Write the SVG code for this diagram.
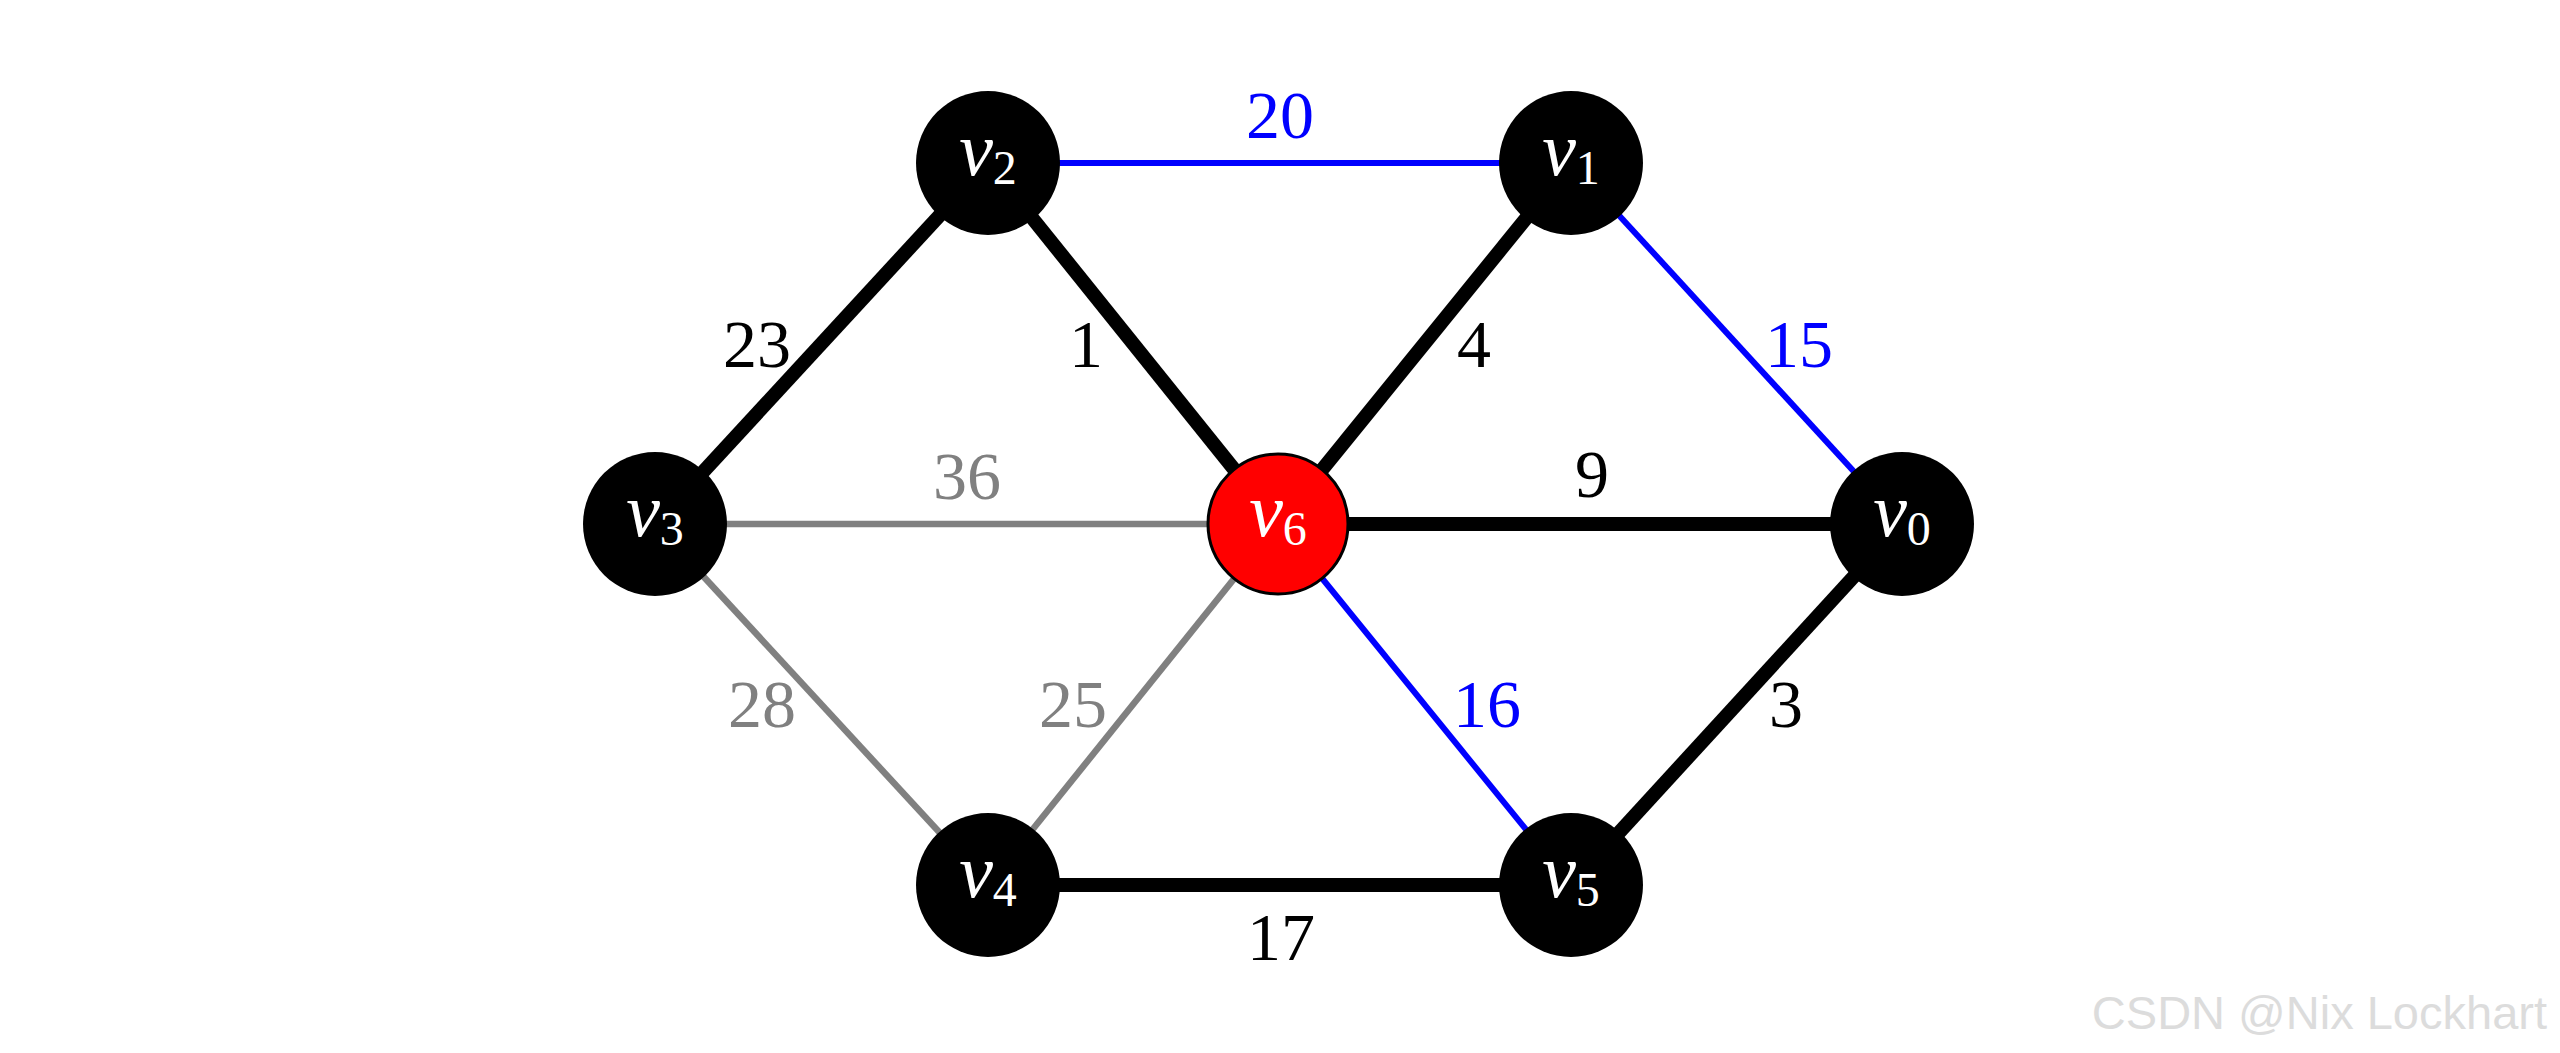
<svg xmlns="http://www.w3.org/2000/svg" width="2560" height="1053" viewBox="0 0 2560 1053">
<style>
.thick{stroke:#000;stroke-width:14;}
.blue{stroke:#0000ff;stroke-width:6;}
.gray{stroke:#808080;stroke-width:6.5;}
.node{fill:#000;}
.start{fill:#ff0000;stroke:#000;stroke-width:3;}
.nl{font-family:"Liberation Serif","DejaVu Serif",serif;fill:#fff;text-anchor:middle;}
.nl .v{font-style:italic;font-size:76px;}
.nl .s{font-size:48px;}
.w{font-family:"Liberation Serif","DejaVu Serif",serif;font-size:68px;text-anchor:middle;}
.wk{fill:#000;}
.wb{fill:#0000ff;}
.wg{fill:#808080;}
</style>
<rect width="2560" height="1053" fill="#fff"/>
<g id="connectors">
  <line class="blue" x1="988" y1="163" x2="1571" y2="163"/>
  <line class="blue" x1="1571" y1="163" x2="1902" y2="524"/>
  <line class="blue" x1="1278" y1="524" x2="1571" y2="885"/>
  <line class="gray" x1="655" y1="524" x2="1278" y2="524"/>
  <line class="gray" x1="655" y1="524" x2="988" y2="885"/>
  <line class="gray" x1="988" y1="885" x2="1278" y2="524"/>
  <line class="thick" x1="655" y1="524" x2="988" y2="163"/>
  <line class="thick" x1="988" y1="163" x2="1278" y2="524"/>
  <line class="thick" x1="1278" y1="524" x2="1571" y2="163"/>
  <line class="thick" x1="1278" y1="524" x2="1902" y2="524"/>
  <line class="thick" x1="1902" y1="524" x2="1571" y2="885"/>
  <line class="thick" x1="988" y1="885" x2="1571" y2="885"/>
</g>
<g id="edge-labels">
  <text class="w wb" x="1280" y="138">20</text>
  <text class="w wk" x="757" y="367">23</text>
  <text class="w wk" x="1086" y="367">1</text>
  <text class="w wk" x="1474" y="367">4</text>
  <text class="w wb" x="1799" y="367">15</text>
  <text class="w wg" x="967" y="499">36</text>
  <text class="w wk" x="1592" y="497">9</text>
  <text class="w wg" x="762" y="727">28</text>
  <text class="w wg" x="1073" y="727">25</text>
  <text class="w wb" x="1487" y="727">16</text>
  <text class="w wk" x="1786" y="727">3</text>
  <text class="w wk" x="1281" y="960">17</text>
</g>
<g id="v0"><circle class="node" cx="1902" cy="524" r="72"/><text class="nl" x="1902" y="536"><tspan class="v">v</tspan><tspan class="s" dy="9">0</tspan></text></g>
<g id="v1"><circle class="node" cx="1571" cy="163" r="72"/><text class="nl" x="1571" y="175"><tspan class="v">v</tspan><tspan class="s" dy="9">1</tspan></text></g>
<g id="v2"><circle class="node" cx="988" cy="163" r="72"/><text class="nl" x="988" y="175"><tspan class="v">v</tspan><tspan class="s" dy="9">2</tspan></text></g>
<g id="v3"><circle class="node" cx="655" cy="524" r="72"/><text class="nl" x="655" y="536"><tspan class="v">v</tspan><tspan class="s" dy="9">3</tspan></text></g>
<g id="v4"><circle class="node" cx="988" cy="885" r="72"/><text class="nl" x="988" y="897"><tspan class="v">v</tspan><tspan class="s" dy="9">4</tspan></text></g>
<g id="v5"><circle class="node" cx="1571" cy="885" r="72"/><text class="nl" x="1571" y="897"><tspan class="v">v</tspan><tspan class="s" dy="9">5</tspan></text></g>
<g id="v6"><circle class="start" cx="1278" cy="524" r="70"/><text class="nl" x="1278" y="536"><tspan class="v">v</tspan><tspan class="s" dy="9">6</tspan></text></g>
<text x="2547" y="1029" font-family="'Liberation Sans',Arial,sans-serif" font-size="47" fill="#dcdcdc" text-anchor="end">CSDN @Nix Lockhart</text>
</svg>
